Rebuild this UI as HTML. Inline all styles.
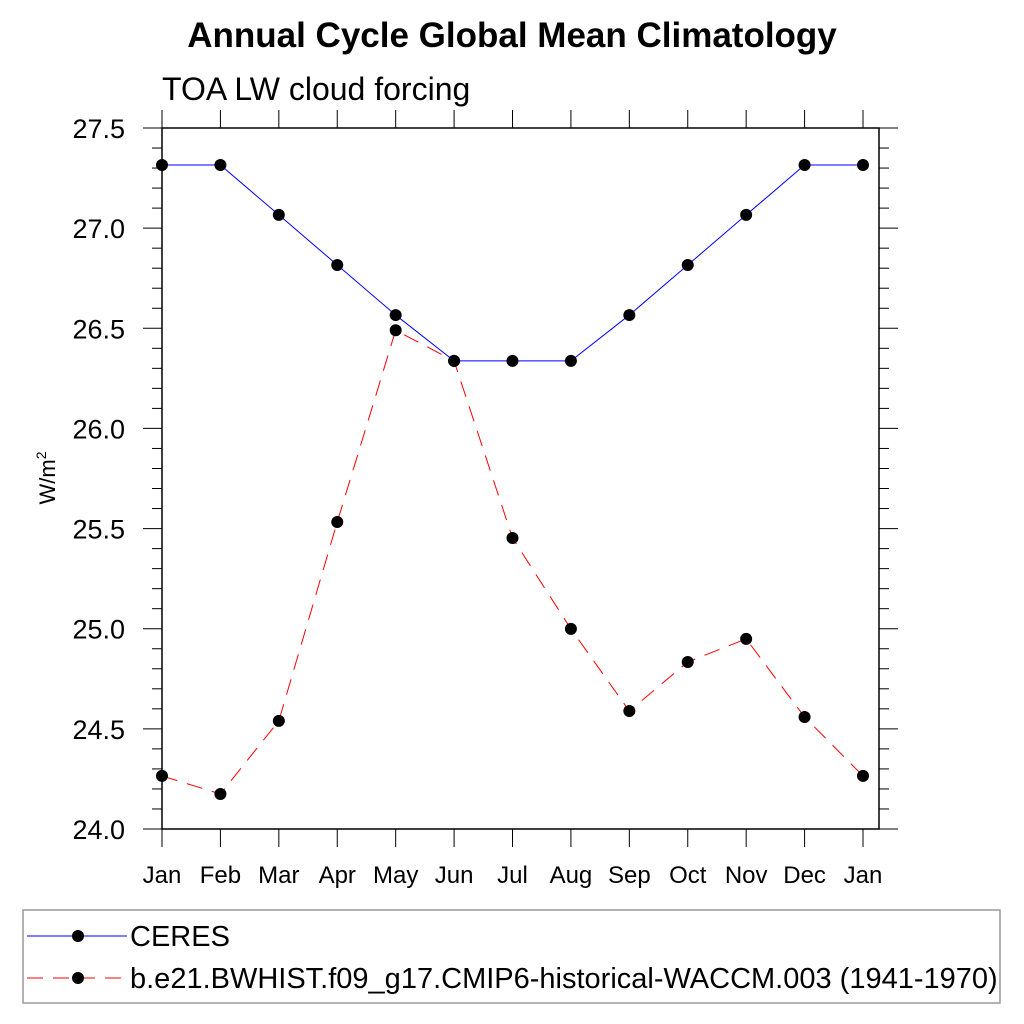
<!DOCTYPE html>
<html><head><meta charset="utf-8"><style>body{margin:0;background:#fff}svg{display:block;font-family:"Liberation Sans",sans-serif}</style></head>
<body>
<svg id="c" width="1024" height="1024">
<text x="512" y="47" text-anchor="middle" font-size="35" font-weight="bold">Annual Cycle Global Mean Climatology</text>
<text x="162" y="100" font-size="32">TOA LW cloud forcing</text>
<text transform="translate(55,478) rotate(-90)" text-anchor="middle" font-size="22">W/m<tspan dy="-9" font-size="14">2</tspan></text>
<g id="g"></g>
<rect x="23" y="910" width="977" height="93" fill="none" stroke="#999" stroke-width="1.5"/>
<line x1="27" y1="936" x2="127" y2="936" stroke="#0000ff" stroke-width="1"/>
<circle cx="78" cy="936" r="6" fill="#000"/>
<text x="130" y="946" font-size="29">CERES</text>
<line x1="27" y1="978" x2="127" y2="978" stroke="#ff0000" stroke-width="1" stroke-dasharray="16,10"/>
<circle cx="78" cy="978" r="6" fill="#000"/>
<text x="130" y="988" font-size="29">b.e21.BWHIST.f09_g17.CMIP6-historical-WACCM.003 (1941-1970)</text>
</svg>
<script>
const months=["Jan","Feb","Mar","Apr","May","Jun","Jul","Aug","Sep","Oct","Nov","Dec","Jan"];
const ceres=[27.315,27.315,27.066,26.816,26.566,26.337,26.337,26.337,26.566,26.816,27.066,27.315,27.315];
const model=[24.265,24.175,24.54,25.533,26.49,26.337,25.453,24.999,24.589,24.834,24.949,24.559,24.265];
const yTicks=["24.0","24.5","25.0","25.5","26.0","26.5","27.0","27.5"];
const NS="http://www.w3.org/2000/svg",g=document.getElementById('g');
const L=162,R=879,T=128,B=829,step=(863-162)/12;
const xs=i=>L+i*step, ys=v=>B-(v-24)/3.5*(B-T);
function mk(t,a){const e=document.createElementNS(NS,t);for(const k in a)e.setAttribute(k,a[k]);g.appendChild(e);return e;}
let e=mk('rect',{x:L,y:T,width:R-L,height:B-T,fill:'none',stroke:'#000','stroke-width':1.5});


for(let k=0;k<=35;k++){const v=24+k*0.1,y=ys(v),maj=k%5==0,len=maj?19:10;
 e=mk('line',{x1:L-len,x2:L,y1:y,y2:y,stroke:'#000','stroke-width':1});
 
 
 e=mk('line',{x1:R,x2:R+len,y1:y,y2:y,stroke:'#000','stroke-width':1});
 
 }
yTicks.forEach(t=>{e=mk('text',{x:L-37,y:ys(+t)+10,'text-anchor':'end','font-size':27});e.textContent=t;
 
 });
months.forEach((m,i)=>{const x=xs(i);
 e=mk('line',{x1:x,x2:x,y1:B,y2:B+18,stroke:'#000','stroke-width':1});
 
 
 e=mk('line',{x1:x,x2:x,y1:T-18,y2:T,stroke:'#000','stroke-width':1});
 
 
 e=mk('text',{x:x,y:883,'text-anchor':'middle','font-size':24});e.textContent=m;
 
 });
function series(d,col,dash,name){
 e=mk('polyline',{points:d.map((v,i)=>xs(i)+','+ys(v)).join(' '),fill:'none',stroke:col,'stroke-width':1,'stroke-dasharray':dash});
 
 
 d.forEach((v,i)=>{e=mk('circle',{cx:xs(i),cy:ys(v),r:6,fill:'#000'});
  
  });}
series(ceres,'#0000ff','none','ceres');
series(model,'#ff0000','16,10','model');
</script>
</body></html>
